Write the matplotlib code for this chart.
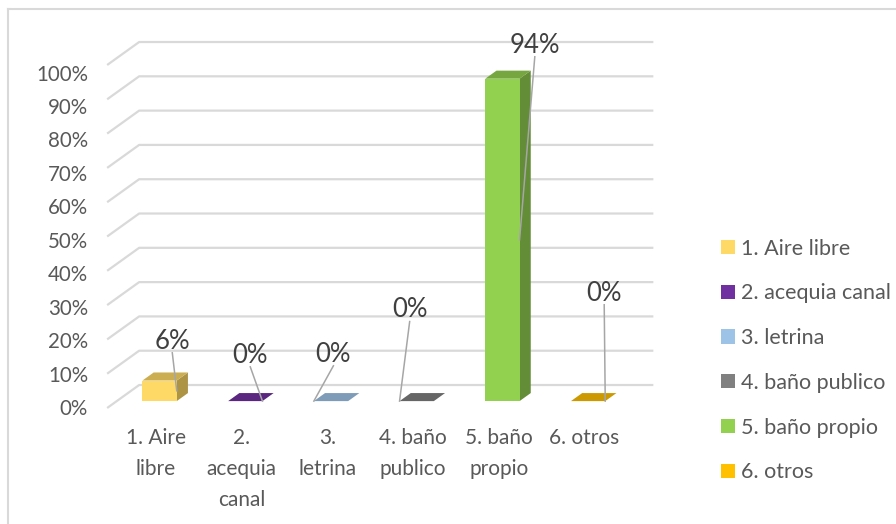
import numpy as np
import matplotlib
matplotlib.use("Agg")
import matplotlib.pyplot as plt
from matplotlib.patches import Polygon, Rectangle
from matplotlib.lines import Line2D

plt.rcParams['font.family'] = ['Lato', 'DejaVu Sans']

# ---- data ----
categories = ['1. Aire libre', '2. acequia canal', '3. letrina',
              '4. baño publico', '5. baño propio', '6. otros']
tick_names = ['1. Aire\nlibre', '2.\nacequia\ncanal', '3.\nletrina',
              '4. baño\npublico', '5. baño\npropio', '6. otros']
values = [6, 0, 0, 0, 94, 0]
labels = ['6%', '0%', '0%', '0%', '94%', '0%']
colors = ['#FFD966', '#7030A0', '#9DC3E6', '#808080', '#92D050', '#FFC000']
yticks = [0, 10, 20, 30, 40, 50, 60, 70, 80, 90, 100]

# data label placement (category units, percent units) and leader side
label_pos = [(0.26, 19.5), (1.17, 15.4), (2.14, 15.7), (3.03, 28.6), (4.49, 105.8), (5.30, 33.5)]
leader_side = ['r', 'r', 'l', 'l', 'r', 'r']

# ---- pseudo 3d geometry ----
DX, DY = 0.3734, 6.7      # full floor depth offset
d0, d1 = 0.30, 0.65        # bar depth span
bw = 0.40                  # bar width

def proj(x, v, d):
    return (x + d * DX, v + d * DY)

def shade(c, f):
    r, g, b = matplotlib.colors.to_rgb(c)
    return (r * f, g * f, b * f)

fig = plt.figure(figsize=(8.96, 5.24), dpi=100)
ax = fig.add_axes([0, 0, 1, 1])
ax.set_xlim(-150 / 85.7, (896 - 150) / 85.7)
ax.set_ylim((408 - 524) / 3.43, 408 / 3.43)
ax.axis('off')

# chart border (top and left visible)
fig.add_artist(Line2D([8 / 896, 8 / 896], [0, 1 - 9 / 524], color='#d9d9d9', lw=1.5))
fig.add_artist(Line2D([8 / 896, 1], [1 - 9 / 524, 1 - 9 / 524], color='#d9d9d9', lw=1.5))

# gridlines: floor diagonal + back wall
gx0, gx1 = -0.5, 5.5
for v in yticks:
    a = proj(gx0, v, 0)
    b = proj(gx0, v, 1)
    c = proj(gx1, v, 1)
    ax.plot([a[0], b[0], c[0]], [a[1], b[1], c[1]], color='#d9d9d9', lw=1.6,
            solid_capstyle='butt', zorder=1)
    ax.text(-0.723, v * 0.975 - 0.3, f'{v}%', ha='right', va='center',
            fontsize=14.8, color='#595959')

# bars
handles = []
for i, (val, col) in enumerate(zip(values, colors)):
    xl, xr = i - bw / 2, i + bw / 2
    top = [proj(xl, val, d0), proj(xr, val, d0), proj(xr, val, d1), proj(xl, val, d1)]
    if val > 0:
        side = [proj(xr, 0, d0), proj(xr, 0, d1), proj(xr, val, d1), proj(xr, val, d0)]
        ax.add_patch(Polygon(side, closed=True, fc=shade(col, 0.68), ec='none', zorder=3))
        front = [proj(xl, 0, d0), proj(xr, 0, d0), proj(xr, val, d0), proj(xl, val, d0)]
        ax.add_patch(Polygon(front, closed=True, fc=col, ec='none', zorder=4))
        ax.add_patch(Polygon(top, closed=True, fc=shade(col, 0.8), ec='none', zorder=4))
    else:
        ax.add_patch(Polygon(top, closed=True, fc=shade(col, 0.8), ec='none', zorder=4))
    handles.append(Rectangle((0, 0), 1, 1, fc=col, ec='none'))

    # data label + leader line
    lx, ly = label_pos[i]
    ax.text(lx, ly, labels[i], ha='center', va='center', fontsize=18.5, color='#404040', zorder=6)
    ex = xr if leader_side[i] == 'r' else xl
    end = proj(ex, val / 2, d0)
    ax.plot([lx, end[0]], [ly - 3.4, end[1]], color='#a6a6a6', lw=1.1, zorder=5)

    # category label
    ax.text(i + 0.07, (408 - 428) / 3.43, tick_names[i], ha='center', va='top',
            fontsize=15, color='#595959', linespacing=1.7)

ax.legend(handles, categories, loc='upper left', bbox_to_anchor=(721 / 896, 1 - 238.5 / 524),
          bbox_transform=fig.transFigure, frameon=False, fontsize=15.5,
          labelcolor='#595959', handlelength=0.65, handleheight=0.65,
          handletextpad=0.3, labelspacing=1.15, borderpad=0, borderaxespad=0)

fig.savefig('out.png', dpi=100)
